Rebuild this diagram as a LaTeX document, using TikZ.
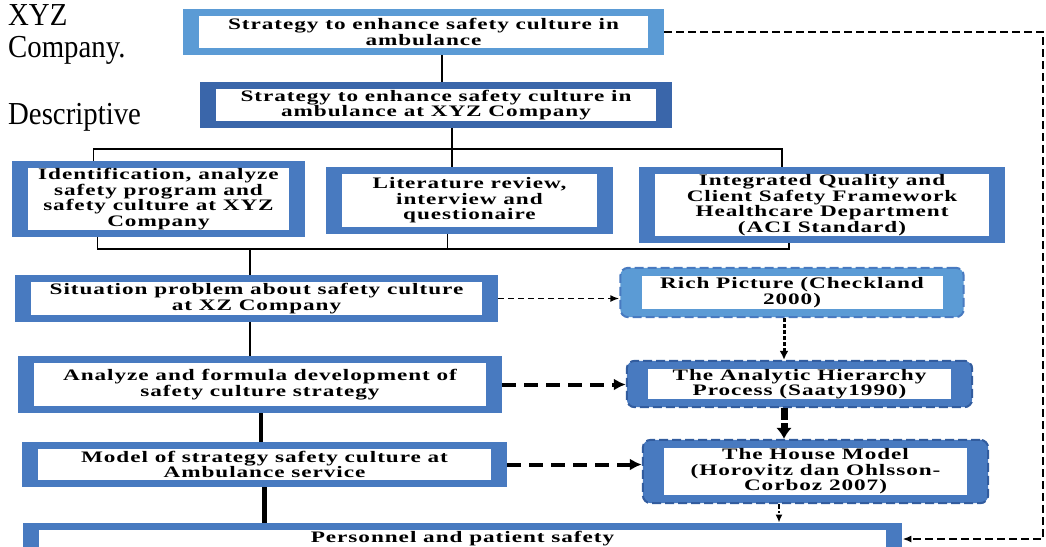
\documentclass[tikz,border=0pt]{standalone}
\usepackage{fontspec}
\setmainfont{Liberation Serif}
\newfontfamily\boxfont{Liberation Serif}[FakeStretch=1.45,LetterSpace=6]
\newfontfamily\sidefont{Liberation Serif}[FakeStretch=0.9]
\usepackage{tikz}
\usetikzlibrary{arrows.meta, calc, fit, backgrounds}
\definecolor{lightblue}{RGB}{91,155,213}
\definecolor{boxblue}{RGB}{72,122,192}
\definecolor{darkblue}{RGB}{58,102,170}
\definecolor{dashblue}{RGB}{50,92,158}
\tikzstyle{inbox} = [fill=white, inner sep=0pt, align=center, font=\boxfont\bfseries\fontsize{16}{15.5}\selectfont]
\tikzstyle{frame} = [fill=boxblue, inner xsep=16pt, inner ysep=7pt]
\tikzstyle{rframe} = [fill=boxblue, draw=dashblue, line width=2pt, dash pattern=on 9pt off 4pt, rounded corners=8pt, inner xsep=21pt, inner ysep=8pt]
\tikzstyle{link} = [line width=1.6pt]
\tikzstyle{thicklink} = [line width=4.5pt]

\begin{document}
\begin{tikzpicture}[x=1pt, y=-1pt,
    side/.style={inner sep=0pt, anchor=base west, font=\sidefont\fontsize{32}{36}\selectfont},
    thinarrow/.style={line width=1.6pt, dash pattern=on 6pt off 4pt, -{Latex[length=9pt,width=7pt]}},
    fatarrow/.style={line width=4pt, dash pattern=on 14pt off 8pt, -{Latex[length=12pt,width=12pt]}}]
    \useasboundingbox (0,0) rectangle (1046,546);
    \clip (0,0) rectangle (1046,546);
    % text on the left
    \node[side] (xyz) at (8,25) {XYZ};
    \node[side] (comp) at (8,57) {Company.};
    \node[side] (desc) at (8,124) {Descriptive};
    % main column
    \node[inbox, minimum width=449, minimum height=32] (top) at (423.5,32) {Strategy to enhance safety culture in\\ambulance};
    \node[inbox, minimum width=440, minimum height=32] (sub) at (436,105) {Strategy to enhance safety culture in\\ambulance at XYZ Company};
    \node[inbox, minimum width=261, minimum height=53] (idf) at (158.5,199) {Identification, analyze\\safety program and\\safety culture at XYZ\\Company};
    \node[inbox, minimum width=255, minimum height=53] (lit) at (469.5,200.5) {Literature review,\\interview and\\questionaire};
    \node[inbox, minimum width=334, minimum height=62] (aci) at (822,205) {Integrated Quality and\\Client Safety Framework\\Healthcare Department\\(ACI Standard)};
    \node[inbox, minimum width=451, minimum height=33] (sit) at (256.5,298.5) {Situation problem about safety culture\\at XZ Company};
    \node[inbox, minimum width=452, minimum height=43] (ana) at (260,384.5) {Analyze and formula development of\\safety culture strategy};
    \node[inbox, minimum width=453, minimum height=31] (mod) at (264.5,464.5) {Model of strategy safety culture at\\Ambulance service};
    \node[inbox, minimum width=847, minimum height=18] (per) at (462.5,539) {Personnel and patient safety};
    % methods on the right
    \node[inbox, minimum width=301, minimum height=33] (rich) at (792,292.5) {Rich Picture (Checkland\\2000)};
    \node[inbox, minimum width=303, minimum height=30] (ahp) at (799.5,384) {The Analytic Hierarchy\\Process (Saaty1990)};
    \node[inbox, minimum width=303, minimum height=47] (house) at (815.5,471.5) {The House Model\\(Horovitz dan Ohlsson-\\Corboz 2007)};
    \begin{scope}[on background layer]
        \node[frame, fill=lightblue, fit=(top)] (topF) {};
        \node[frame, fill=darkblue, fit=(sub)] (subF) {};
        \foreach \n in {idf, lit, aci, sit, ana, mod, per}
            \node[frame, fit=(\n)] (\n F) {};
        \node[rframe, fill=lightblue, draw=boxblue, fit=(rich)] (richF) {};
        \node[rframe, fit=(ahp)] (ahpF) {};
        \node[rframe, fit=(house)] (houseF) {};
    \end{scope}
    \coordinate (brT) at (0,149);
    \coordinate (brB) at (0,249);
    \coordinate (rc) at (1043,0);
    % connectors
    \draw[link] ([xshift=6pt]subF.north |- topF.south) -- ([xshift=6pt]subF.north);
    \draw[link] ([xshift=16pt]subF.south) -- ([xshift=-17.5pt]litF.north);
    \draw[link] ([xshift=-65pt]idfF.north) |- ([xshift=-40pt]aciF.north |- brT) -- ([xshift=-40pt]aciF.north);
    \draw[link] ([xshift=-61pt]idfF.south) |- ([xshift=-33pt]aciF.south |- brB) -- ([xshift=-33pt]aciF.south);
    \draw[link] ([xshift=-22pt]litF.south) -- ([xshift=-22pt]litF.south |- brB);
    \draw[link] ([xshift=-6.5pt]sitF.north |- brB) -- ([xshift=-6.5pt]sitF.north);
    \draw[link] ([xshift=-6.5pt]sitF.south) -- ([xshift=-6.5pt]sitF.south |- anaF.north);
    \draw[thicklink] ([xshift=1pt]anaF.south) -- ([xshift=1pt]anaF.south |- modF.north);
    \draw[thicklink] (modF.south) -- (modF.south |- perF.north);
    \draw[thinarrow] (sitF.east) -- (sitF.east -| richF.west);
    \draw[fatarrow] (anaF.east) -- (anaF.east -| ahpF.west);
    \draw[fatarrow] (modF.east) -- (modF.east -| houseF.west);
    \draw[line width=3pt, dash pattern=on 4pt off 2pt, -{Latex[length=9pt,width=9pt]}] ([xshift=-8pt]richF.south) -- ([xshift=-8pt]richF.south |- ahpF.north);
    \draw[line width=7pt, dash pattern=on 12pt off 3pt, -{Latex[length=11pt,width=16pt]}] ([xshift=-15.5pt]ahpF.south) -- ([xshift=-15.5pt]ahpF.south |- houseF.north);
    \draw[line width=1.6pt, dash pattern=on 5pt off 2pt on 1.5pt off 2pt, -{Latex[length=8pt,width=7pt]}] ([xshift=-36.5pt]houseF.south) -- ([xshift=-36.5pt]houseF.south |- perF.north);
    \draw[line width=2pt, dash pattern=on 8pt off 4pt, -{Latex[length=9pt,width=7pt]}] (topF.east) -- (topF.east -| rc) |- (perF.east);
\end{tikzpicture}
\end{document}
